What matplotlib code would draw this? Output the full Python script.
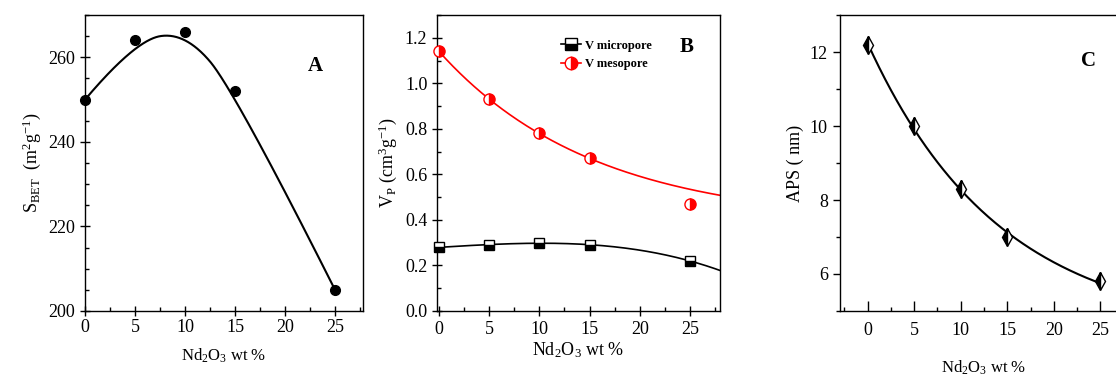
import matplotlib.pyplot as plt
import numpy as np
import matplotlib as mpl
from matplotlib.ticker import MultipleLocator

mpl.rcParams['font.family'] = 'Liberation Serif'
mpl.rcParams['font.size'] = 13
mpl.rcParams['mathtext.fontset'] = 'custom'
mpl.rcParams['mathtext.rm'] = 'Liberation Serif'
mpl.rcParams['mathtext.it'] = 'Liberation Serif'

nd2o3 = [0, 5, 10, 15, 25]
s_bet = [250, 264, 266, 252, 205]
v_micro = [0.28, 0.29, 0.30, 0.29, 0.22]
v_meso = [1.14, 0.93, 0.78, 0.67, 0.47]
aps = [12.2, 10.0, 8.3, 7.0, 5.8]

xlabel = r'Nd$_2$O$_3$ wt %'


def bspline(px, py, k=2, n=300):
    # clamped B-spline using the data points as control points
    P = np.column_stack([px, py]).astype(float)
    m = len(P)
    inner = np.linspace(0, 1, m - k + 1)[1:-1]
    t = np.concatenate([[0] * (k + 1), inner, [1] * (k + 1)])
    out = []
    for u in np.linspace(0, 1, n):
        N = np.array([1.0 if (t[i] <= u < t[i + 1]) or (u == 1 and t[i] < u <= t[i + 1]) else 0.0
                      for i in range(len(t) - 1)])
        for d in range(1, k + 1):
            Nn = np.zeros(len(t) - 1 - d)
            for i in range(len(Nn)):
                a = 0.0 if t[i + d] == t[i] else (u - t[i]) / (t[i + d] - t[i]) * N[i]
                b = 0.0 if t[i + d + 1] == t[i + 1] else (t[i + d + 1] - u) / (t[i + d + 1] - t[i + 1]) * N[i + 1]
                Nn[i] = a + b
            N = Nn
        out.append(N @ P)
    out = np.array(out)
    return out[:, 0], out[:, 1]


def exp_fit(x, y, xs):
    # y = a*exp(-b*x) + c, grid over b, linear least squares for a, c
    x = np.asarray(x, float)
    y = np.asarray(y, float)
    best = None
    for b in np.linspace(0.005, 0.3, 600):
        A = np.column_stack([np.exp(-b * x), np.ones_like(x)])
        coef, _, _, _ = np.linalg.lstsq(A, y, rcond=None)
        err = np.sum((A @ coef - y) ** 2)
        if best is None or err < best[0]:
            best = (err, b, coef)
    _, b, (a, c) = best
    return a * np.exp(-b * xs) + c


def style_axes(ax):
    for s in ax.spines.values():
        s.set_linewidth(1.0)
    ax.tick_params(which='major', direction='inout', length=7, width=1)
    ax.tick_params(which='minor', direction='in', length=3, width=1)
    ax.xaxis.set_minor_locator(MultipleLocator(2.5))


fig = plt.figure(figsize=(11.16, 3.76), dpi=100)

# panel A
axA = fig.add_axes([0.0762, 0.1729, 0.2491, 0.7871])
bx, by = bspline(nd2o3, s_bet)
axA.plot(bx, by, color='black', lw=1.5)
axA.plot(nd2o3, s_bet, 'o', color='black', ms=7, clip_on=False, zorder=5)
axA.set_xlim(0, 27.8)
axA.set_ylim(200, 270)
axA.set_xticks([0, 5, 10, 15, 20, 25])
axA.set_yticks([200, 220, 240, 260])
axA.yaxis.set_minor_locator(MultipleLocator(5))
axA.set_xlabel(xlabel, fontsize=12, labelpad=8)
axA.set_ylabel(r'S$_{\rm BET}$  (m$^2$g$^{-1}$)', fontsize=13)
axA.text(23, 258, 'A', fontsize=15, fontweight='bold', ha='center', va='center')
style_axes(axA)
axA.tick_params(axis='x', pad=2)

# panel B
axB = fig.add_axes([0.3916, 0.1729, 0.2536, 0.7871])
xs = np.linspace(0, 28, 200)
pm = np.polyfit(nd2o3, v_micro, 3)
axB.plot(xs, np.polyval(pm, xs), color='black', lw=1.2)
axB.plot(xs, exp_fit(nd2o3[:4], v_meso[:4], xs), color='red', lw=1.2)
axB.plot(nd2o3, v_micro, 's', color='black', mfc='black', mfcalt='white',
         fillstyle='bottom', ms=7, clip_on=False, zorder=5)
axB.plot(nd2o3, v_meso, 'o', color='red', mfc='red', mfcalt='white',
         fillstyle='right', ms=8, clip_on=False, zorder=5)
h1, = axB.plot([], [], 's-', color='black', mfc='black', mfcalt='white',
               fillstyle='bottom', ms=8, lw=1.2)
h2, = axB.plot([], [], 'o-', color='red', mfc='red', mfcalt='white',
               fillstyle='right', ms=9, lw=1.2)
axB.legend([h1, h2], ['V micropore', 'V mesopore'], loc='upper left',
           bbox_to_anchor=(0.40, 0.955), frameon=False, handlelength=1.6,
           handletextpad=0.3, labelspacing=0.55,
           prop={'family': 'Liberation Serif', 'size': 9, 'weight': 'bold'})
axB.set_xlim(-0.2, 28)
axB.set_ylim(0, 1.3)
axB.set_xticks([0, 5, 10, 15, 20, 25])
axB.set_yticks(np.arange(0, 1.21, 0.2))
axB.yaxis.set_major_formatter(mpl.ticker.FormatStrFormatter('%.1f'))
axB.yaxis.set_minor_locator(MultipleLocator(0.1))
axB.set_xlabel(xlabel, fontsize=13, labelpad=2)
axB.set_ylabel(r'V$_{\rm P}$ (cm$^3$g$^{-1}$)', fontsize=13)
axB.text(24.7, 1.16, 'B', fontsize=15, fontweight='bold', ha='center', va='center')
style_axes(axB)

# panel C
axC = fig.add_axes([0.7524, 0.1729, 0.2586, 0.7871])
xs = np.linspace(0, 25, 200)
axC.plot(xs, exp_fit(nd2o3, aps, xs), color='black', lw=1.5)
axC.plot(nd2o3, aps, 'd', color='black', mfc='black', mfcalt='white',
         fillstyle='left', ms=9, clip_on=False, zorder=5)
axC.set_xlim(-3, 28)
axC.set_ylim(5, 13)
axC.set_xticks([0, 5, 10, 15, 20, 25])
axC.set_yticks([6, 8, 10, 12])
axC.yaxis.set_minor_locator(MultipleLocator(1))
axC.set_xlabel(xlabel, fontsize=12, labelpad=14)
axC.set_ylabel('APS ( nm)', fontsize=13)
axC.text(23.7, 11.75, 'C', fontsize=15, fontweight='bold', ha='center', va='center')
style_axes(axC)
axC.tick_params(axis='y', which='major', direction='out', length=5)
axC.tick_params(axis='y', which='minor', direction='out', length=3)
axC.tick_params(axis='x', which='major', direction='in', length=7, pad=8)

fig.savefig('out.png', dpi=100)
